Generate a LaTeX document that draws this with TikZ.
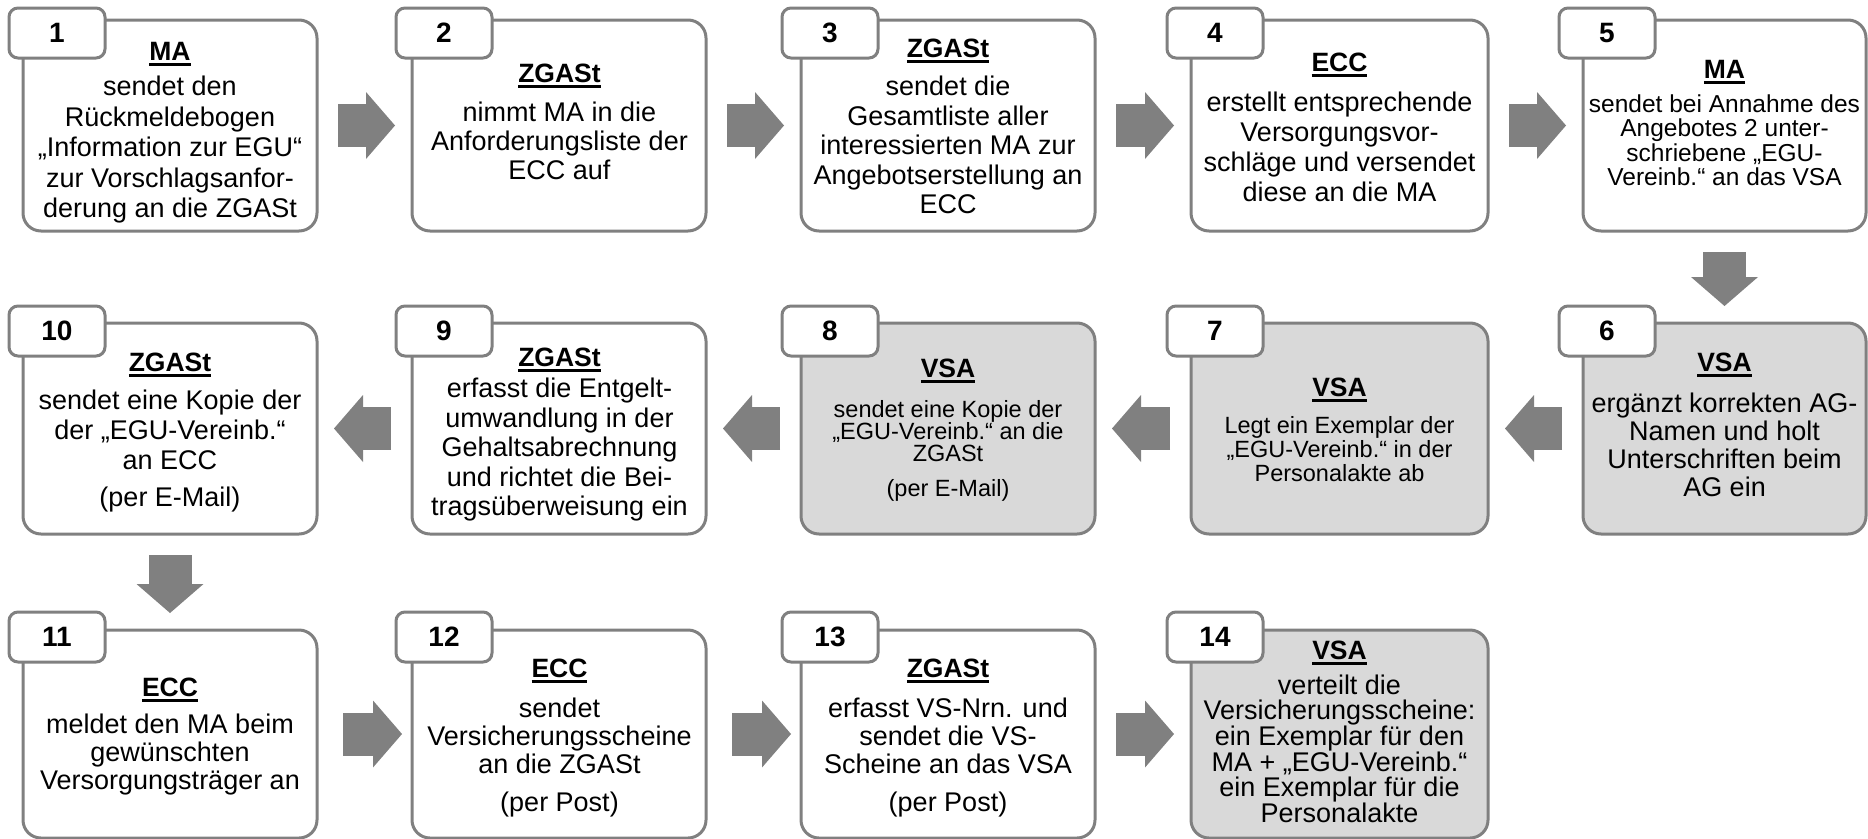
\documentclass[tikz,border=0pt]{standalone}
\usepackage{fontspec}
\setmainfont{Liberation Sans}
\usetikzlibrary{arrows.meta}
\definecolor{linegray}{RGB}{128,128,128}
\definecolor{boxgray}{RGB}{217,217,217}
\definecolor{arrowgray}{RGB}{128,128,128}
\newsavebox\hdrbox
\newcommand\hdr[1]{\sbox\hdrbox{#1}\rlap{\usebox\hdrbox}\rule[-5.5pt]{\wd\hdrbox}{2.6pt}}
\tikzset{
  mainbox/.style={draw=linegray, line width=3pt, rounded corners=18pt, fill=white, minimum width=294pt, minimum height=211pt, anchor=north west, inner sep=0pt, outer sep=0pt},
  graybox/.style={mainbox, fill=boxgray},
  numtab/.style={draw=linegray, line width=3pt, rounded corners=9pt, fill=white, minimum width=96pt, minimum height=50pt, anchor=north west, inner sep=0pt, outer sep=0pt, font=\fontsize{28}{30}\selectfont\bfseries},
  head/.style={anchor=base, inner sep=0pt, font=\fontsize{26.5}{29}\selectfont\bfseries},
  body/.style={align=center, inner sep=0pt, font=\fontsize{27}{#1}\selectfont},
  body/.default=29,
  smallbody/.style={align=center, inner sep=0pt, font=\fontsize{23.5}{#1}\selectfont},
  smallbody/.default=24,
  flowarrow/.style={draw=arrowgray, line width=43pt, shorten <=21pt, shorten >=17pt, -{Triangle[length=29pt,width=67pt,line width=0pt]}}
}
\begin{document}
\begin{tikzpicture}[x=1pt,y=-1pt]
\path[fill=white, use as bounding box] (0,0) rectangle (1868,838);
\node[mainbox] (b1) at (23,20) {};
\node[mainbox] (b2) at (412,20) {};
\node[mainbox] (b3) at (801,20) {};
\node[mainbox, minimum width=297pt] (b4) at (1191,20) {};
\node[mainbox, minimum width=283pt] (b5) at (1583,20) {};
\node[mainbox] (b10) at (23,323) {};
\node[mainbox] (b9) at (412,323) {};
\node[graybox] (b8) at (801,323) {};
\node[graybox, minimum width=297pt] (b7) at (1191,323) {};
\node[graybox, minimum width=283pt] (b6) at (1583,323) {};
\node[mainbox, minimum height=208pt] (b11) at (23,630) {};
\node[mainbox, minimum height=208pt] (b12) at (412,630) {};
\node[mainbox, minimum height=208pt] (b13) at (801,630) {};
\node[graybox, minimum height=208pt, minimum width=297pt] (b14) at (1191,630) {};
\node[numtab] (t1) at (9,8) {1};
\node[numtab] (t2) at (396,8) {2};
\node[numtab] (t3) at (782,8) {3};
\node[numtab] (t4) at (1167,8) {4};
\node[numtab] (t5) at (1559,8) {5};
\node[numtab] (t10) at (9,306) {10};
\node[numtab] (t9) at (396,306) {9};
\node[numtab] (t8) at (782,306) {8};
\node[numtab] (t7) at (1167,306) {7};
\node[numtab] (t6) at (1559,306) {6};
\node[numtab] (t11) at (9,612) {11};
\node[numtab] (t12) at (396,612) {12};
\node[numtab] (t13) at (782,612) {13};
\node[numtab] (t14) at (1167,612) {14};
\node[head] (h1) at (170,60) {\hdr{MA}};
\node[body=30.5] (x1) at (170,150) {sendet den\\Rückmeldebogen\\„Information zur EGU“\\zur Vorschlagsanfor-\\derung an die ZGASt};
\node[head] (h2) at (559.5,82) {\hdr{ZGASt}};
\node[body=29] (x2) at (559.5,141) {nimmt MA in die\\Anforderungsliste der\\ECC auf};
\node[head] (h3) at (948,57) {\hdr{ZGASt}};
\node[body=29.5] (x3) at (948,145) {sendet die\\Gesamtliste aller\\interessierten MA zur\\Angebotserstellung an\\ECC};
\node[head] (h4) at (1339.5,71) {\hdr{ECC}};
\node[body=30] (x4) at (1339.5,147) {erstellt entsprechende\\Versorgungsvor-\\schläge und versendet\\diese an die MA};
\node[head] (h5) at (1724.5,78) {\hdr{MA}};
\node[smallbody, font=\fontsize{24.5}{24.5}\selectfont] (x5) at (1724.5,140) {sendet bei Annahme des\\Angebotes 2 unter-\\schriebene „EGU-\\Vereinb.“ an das VSA};
\node[head] (h10) at (170,371) {\hdr{ZGASt}};
\node[body=30] (x10) at (170,430) {sendet eine Kopie der\\der „EGU-Vereinb.“\\an ECC};
\node[body] (p10) at (170,500) {(per E-Mail)};
\node[head] (h9) at (559.5,366) {\hdr{ZGASt}};
\node[body=29.5] (x9) at (559.5,450) {erfasst die Entgelt-\\umwandlung in der\\Gehaltsabrechnung\\und richtet die Bei-\\tragsüberweisung ein};
\node[head] (h8) at (948,377) {\hdr{VSA}};
\node[smallbody=22] (x8) at (948,431) {sendet eine Kopie der\\„EGU-Vereinb.“ an die\\ZGASt};
\node[smallbody] (p8) at (948,490) {(per E-Mail)};
\node[head] (h7) at (1339.5,396) {\hdr{VSA}};
\node[smallbody] (x7) at (1339.5,449) {Legt ein Exemplar der\\„EGU-Vereinb.“ in der\\Personalakte ab};
\node[head] (h6) at (1724.5,371) {\hdr{VSA}};
\node[body=28] (x6) at (1724.5,445) {ergänzt korrekten AG-\\Namen und holt\\Unterschriften beim\\AG ein};
\node[head] (h11) at (170,696) {\hdr{ECC}};
\node[body=28] (x11) at (170,755) {meldet den MA beim\\gewünschten\\Versorgungsträger an};
\node[head] (h12) at (559.5,677) {\hdr{ECC}};
\node[body=28] (x12) at (559.5,735.5) {sendet\\Versicherungsscheine\\an die ZGASt};
\node[body] (p12) at (559.5,805) {(per Post)};
\node[head] (h13) at (948,677) {\hdr{ZGASt}};
\node[body=28] (x13) at (948,735.5) {erfasst VS-Nrn. und\\sendet die VS-\\Scheine an das VSA};
\node[body] (p13) at (948,805) {(per Post)};
\node[head] (h14) at (1339.5,659) {\hdr{VSA}};
\node[body=24.5] (x14) at (1339.5,749) {verteilt die\\Versicherungsscheine:\\ein Exemplar für den\\MA + „EGU-Vereinb.“\\ein Exemplar für die\\Personalakte};
\draw[flowarrow] (b1) -- (b2);
\draw[flowarrow] (b2) -- (b3);
\draw[flowarrow] (b3) -- (b4);
\draw[flowarrow] (b4) -- (b5);
\draw[flowarrow] (b5) -- (b6);
\draw[flowarrow] (b6) -- (b7);
\draw[flowarrow] (b7) -- (b8);
\draw[flowarrow] (b8) -- (b9);
\draw[flowarrow] (b9) -- (b10);
\draw[flowarrow] (b10) -- (b11);
\draw[flowarrow, shorten <=26pt, shorten >=10pt] (b11) -- (b12);
\draw[flowarrow, shorten <=26pt, shorten >=10pt] (b12) -- (b13);
\draw[flowarrow] (b13) -- (b14);
\end{tikzpicture}
\end{document}
